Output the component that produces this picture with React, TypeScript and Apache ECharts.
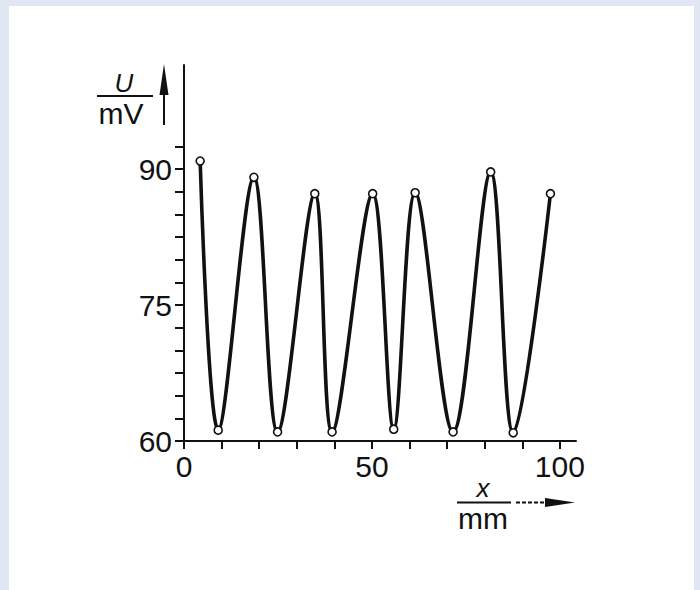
import React, { useEffect, useRef } from "react";
import * as echarts from "echarts";

// Measured points (x in mm, U in mV)
const xValues = [4.3, 9.1, 18.6, 24.9, 34.8, 39.4, 50.2, 55.8, 61.5, 71.6, 81.6, 87.6, 97.5];
const uValues = [90.9, 61.2, 89.1, 61.0, 87.3, 61.0, 87.3, 61.3, 87.4, 61.0, 89.7, 60.9, 87.3];

// Axis ticks and labels
const xTickValues = [0, 10, 20, 30, 40, 50, 60, 70, 80, 90, 100];
const xLabelValues = [0, 50, 100];
const yTickValues = [60, 62.5, 65, 67.5, 70, 72.5, 75, 77.5, 80, 82.5, 85, 87.5, 90, 92.5];
const yLabelValues = [60, 75, 90];

const INK = "#111111";
const FONT = "Liberation Sans";

export default function App() {
  const ref = useRef<HTMLDivElement>(null);

  useEffect(() => {
    if (!ref.current) return;
    const chart = echarts.init(ref.current, null, { renderer: "svg" });
    const data = xValues.map((x, i) => [x, uValues[i]]);
    chart.setOption({
      animation: false,
      backgroundColor: "transparent",
      grid: { left: 184, top: 65, width: 392, height: 376, containLabel: false },
      xAxis: {
        type: "value",
        min: 0,
        max: 104.3,
        axisLine: { show: true, onZero: false, lineStyle: { color: INK, width: 2 } },
        axisTick: {
          show: true,
          customValues: xTickValues,
          length: 8,
          inside: false,
          lineStyle: { color: INK, width: 2 },
        },
        axisLabel: {
          customValues: xLabelValues,
          color: INK,
          fontFamily: FONT,
          fontSize: 30,
          margin: 10,
        },
        splitLine: { show: false },
      },
      yAxis: {
        type: "value",
        min: 60,
        max: 101.5,
        axisLine: { show: true, onZero: false, lineStyle: { color: INK, width: 2 } },
        axisTick: {
          show: true,
          customValues: yTickValues,
          length: 9,
          inside: false,
          lineStyle: { color: INK, width: 2 },
        },
        axisLabel: {
          customValues: yLabelValues,
          color: INK,
          fontFamily: FONT,
          fontSize: 30,
          margin: 12,
        },
        splitLine: { show: false },
      },
      series: [
        {
          type: "line",
          data,
          smooth: 0.35,
          symbol: "circle",
          symbolSize: 8,
          lineStyle: { color: INK, width: 3.6 },
          itemStyle: { color: "#ffffff", borderColor: INK, borderWidth: 1.6 },
          z: 3,
        },
      ],
      graphic: [
        // y-axis unit label
        {
          type: "text",
          x: 124,
          y: 83,
          style: {
            text: "U",
            font: `italic 26px "${FONT}"`,
            fill: INK,
            align: "center",
            verticalAlign: "middle",
          },
        },
        {
          type: "line",
          shape: { x1: 97, y1: 96, x2: 153, y2: 96 },
          style: { stroke: INK, lineWidth: 2 },
        },
        {
          type: "text",
          x: 121,
          y: 113,
          style: {
            text: "mV",
            font: `30px "${FONT}"`,
            fill: INK,
            align: "center",
            verticalAlign: "middle",
          },
        },
        {
          type: "line",
          shape: { x1: 164, y1: 90, x2: 164, y2: 125 },
          style: { stroke: INK, lineWidth: 2 },
        },
        {
          type: "polygon",
          shape: { points: [[164, 64], [159.5, 95], [168.5, 95]] },
          style: { fill: INK },
        },
        // x-axis unit label
        {
          type: "text",
          x: 483,
          y: 488,
          style: {
            text: "x",
            font: `italic 26px "${FONT}"`,
            fill: INK,
            align: "center",
            verticalAlign: "middle",
          },
        },
        {
          type: "line",
          shape: { x1: 457, y1: 502.5, x2: 511, y2: 502.5 },
          style: { stroke: INK, lineWidth: 2 },
        },
        {
          type: "text",
          x: 483,
          y: 518,
          style: {
            text: "mm",
            font: `30px "${FONT}"`,
            fill: INK,
            align: "center",
            verticalAlign: "middle",
          },
        },
        {
          type: "line",
          shape: { x1: 516, y1: 502.5, x2: 550, y2: 502.5 },
          style: { stroke: INK, lineWidth: 2, lineDash: [4, 2] },
        },
        {
          type: "polygon",
          shape: { points: [[575, 502.5], [545, 498], [545, 507]] },
          style: { fill: INK },
        },
      ],
    });
    return () => chart.dispose();
  }, []);

  return (
    <div
      style={{
        position: "fixed",
        left: 0,
        top: 0,
        width: 700,
        height: 590,
        background: "#e0e6f2",
        overflow: "hidden",
      }}
    >
      <div
        style={{
          position: "absolute",
          left: 9,
          top: 6,
          width: 685,
          height: 584,
          background: "#ffffff",
        }}
      />
      <div
        ref={ref}
        style={{ position: "absolute", left: 0, top: 0, width: 700, height: 590 }}
      />
    </div>
  );
}
